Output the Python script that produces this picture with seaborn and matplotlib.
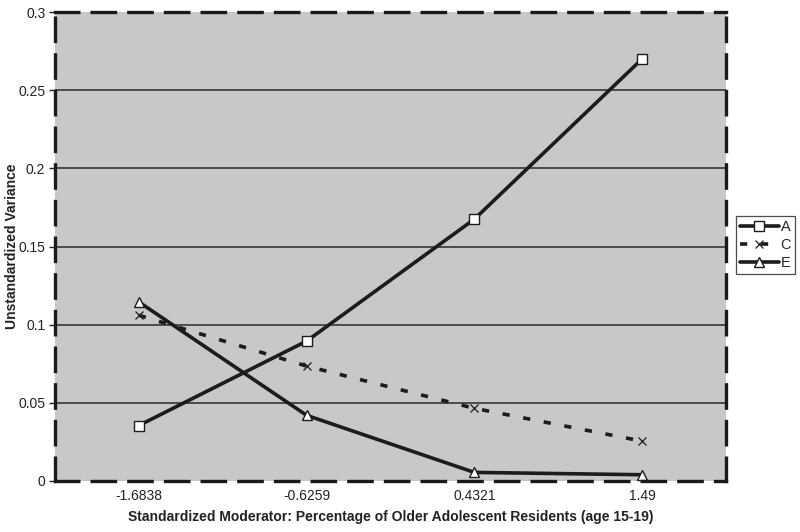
import matplotlib
matplotlib.use("Agg")
import matplotlib.pyplot as plt
from matplotlib.ticker import FixedLocator
import pandas as pd
import seaborn as sns

# values
moderator = ["-1.6838", "-0.6259", "0.4321", "1.49"]
var_a = [0.0355, 0.0895, 0.1675, 0.2700]
var_c = [0.1060, 0.0735, 0.0465, 0.0255]
var_e = [0.1145, 0.0420, 0.0055, 0.0040]
y_ticks = [0, 0.05, 0.1, 0.15, 0.2, 0.25, 0.3]
y_labels = ["0", "0.05", "0.1", "0.15", "0.2", "0.25", "0.3"]

df = pd.DataFrame({"x": moderator, "A": var_a, "C": var_c, "E": var_e})

sns.set_style("white")
plt.rcParams["font.family"] = ["Liberation Sans", "DejaVu Sans"]

fig = plt.figure(figsize=(8, 5.32), dpi=100)
ax = fig.add_axes([55 / 800, 1 - 481 / 532, 671 / 800, 469 / 532])
ax.set_facecolor("#c8c8c9")

for y in y_ticks[1:-1]:
    ax.axhline(y, color="#2a2a2a", lw=1.1, zorder=1)

ink = "#1c1c1c"
sns.lineplot(data=df, x="x", y="A", ax=ax, sort=False, color=ink, lw=2.6,
             marker="s", markersize=7, markerfacecolor="white",
             markeredgecolor=ink, markeredgewidth=1.0, label="A", zorder=3)
sns.lineplot(data=df, x="x", y="C", ax=ax, sort=False, color=ink, lw=2.6,
             marker="x", markersize=6, markeredgecolor=ink,
             markeredgewidth=0.9, label="C", zorder=3,
             dashes=False, linestyle=(0, (2.0, 3.8)))
sns.lineplot(data=df, x="x", y="E", ax=ax, sort=False, color=ink, lw=2.6,
             marker="^", markersize=7.5, markerfacecolor="white",
             markeredgecolor=ink, markeredgewidth=1.0, label="E", zorder=3)

ax.set_xlim(-0.5, 3.5)
ax.set_ylim(0, 0.3)
ax.set_yticks(y_ticks)
ax.set_yticklabels(y_labels)
ax.xaxis.set_minor_locator(FixedLocator([0.5, 1.5, 2.5]))
ax.tick_params(axis="x", which="major", length=0, pad=6, labelsize=10, colors="#222222")
ax.tick_params(axis="x", which="minor", length=4, width=1, color="#222222", direction="out")
ax.tick_params(axis="y", length=4, width=1, direction="out", left=True,
               labelsize=10, colors="#222222", pad=3)

for sp in ax.spines.values():
    sp.set_visible(True)
    sp.set_color("#1a1a1a")
    sp.set_linewidth(2.4)
    sp.set_linestyle((0, (7.0, 4.0)))
    sp.set_zorder(4)

ax.set_xlabel("Standardized Moderator: Percentage of Older Adolescent Residents (age 15-19)",
              fontsize=10, fontweight="bold", color="#222222")
ax.set_ylabel("Unstandardized Variance", fontsize=10, fontweight="bold",
              color="#222222")
ax.xaxis.set_label_coords(0.5, -0.077)
ax.yaxis.set_label_coords(-0.064, 0.5)
ax.xaxis.label.set_va("center")
ax.yaxis.label.set_va("center")

handles, labels = ax.get_legend_handles_labels()
ax.get_legend().remove()
leg = fig.legend(handles, labels, loc="upper left",
                 bbox_to_anchor=(736 / 800, 1 - 216 / 532),
                 frameon=True, fancybox=False, fontsize=10.5, handlelength=2.7,
                 handletextpad=0.1, labelspacing=0.3, borderpad=0.25,
                 borderaxespad=0)
leg.get_frame().set_edgecolor("#222222")
leg.get_frame().set_linewidth(0.9)

fig.savefig("out.png", dpi=100)
